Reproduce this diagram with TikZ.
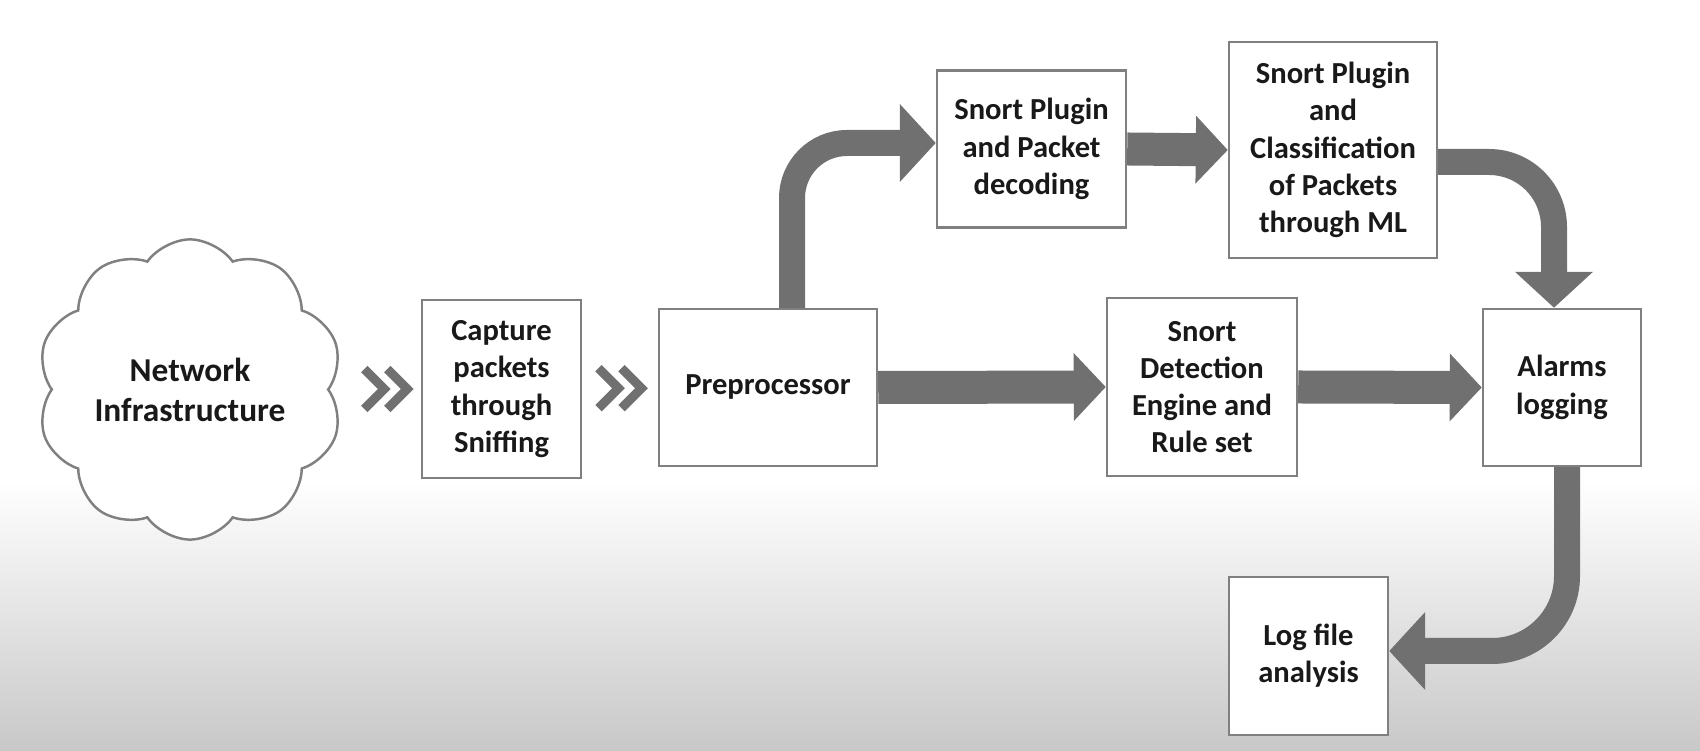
\documentclass[tikz,border=0pt]{standalone}
\usepackage{fontspec}
\setmainfont{Carlito}
\usetikzlibrary{shapes.symbols,arrows.meta,calc}
\definecolor{boxgray}{RGB}{128,128,128}
\definecolor{arrowgray}{RGB}{112,112,112}
\definecolor{bggray}{RGB}{200,200,200}
\definecolor{txtblack}{RGB}{25,25,25}
\tikzset{
  box/.style={draw=boxgray, fill=white, line width=0.7pt, align=center, inner sep=0pt, text=txtblack, font=\fontsize{8.7}{10.6}\selectfont\bfseries},
  flow/.style={draw=arrowgray, line width=0.33cm, -{Triangle[length=0.32cm,width=0.66cm]}},
  curvearrow/.style={draw=arrowgray, line width=0.26cm, -{Triangle[length=0.36cm,width=0.76cm]}},
  chev/.pic={\foreach \dx in {-0.115,0.115} \draw[arrowgray, line width=0.09cm] (\dx-0.1,0.2) -- (\dx+0.1,0) -- (\dx-0.1,-0.2);}
}
\begin{document}
\begin{tikzpicture}
\useasboundingbox (0,0) rectangle (17,7.51);
\fill[white] (0,0) rectangle (17,7.51);
\shade[top color=white, bottom color=bggray] (0,0) rectangle (17,2.7);

\node[box, cloud, cloud puffs=10, cloud puff arc=110, aspect=1, minimum width=3.06cm, minimum height=2.97cm, font=\fontsize{9.5}{11.4}\selectfont\bfseries] (net) at (1.90,3.615) {Network\\Infrastructure};
\node[box, minimum width=1.59cm, minimum height=1.78cm] (cap) at (5.015,3.62) {Capture\\packets\\through\\Sniffing};
\node[box, minimum width=2.18cm, minimum height=1.57cm] (pre) at (7.68,3.635) {Preprocessor};
\node[box, minimum width=1.89cm, minimum height=1.57cm] (dec) at (10.315,6.02) {Snort Plugin\\and Packet\\decoding};
\node[box, minimum width=2.08cm, minimum height=2.16cm] (cls) at (13.33,6.01) {Snort Plugin\\and\\Classification\\of Packets\\through ML};
\node[box, minimum width=1.90cm, minimum height=1.78cm] (det) at (12.02,3.64) {Snort\\Detection\\Engine and\\Rule set};
\node[box, minimum width=1.58cm, minimum height=1.57cm] (alm) at (15.62,3.635) {Alarms\\logging};
\node[box, minimum width=1.59cm, minimum height=1.58cm] (logf) at (13.085,0.95) {Log file\\analysis};

\pic at ($(cap.west)+(-0.35,0)$) {chev};
\pic at ($(cap.east)!0.5!(pre.west)$) {chev};

\draw[flow] (pre.east) -- (det.west);
\draw[flow] (det.east) -- (alm.west);
\draw[flow] (dec.east) -- (cls.west);
\draw[curvearrow, rounded corners=0.55cm] ([xshift=0.24cm]pre.north) |- ([yshift=0.06cm]dec.west);
\draw[curvearrow, rounded corners=0.65cm] ([yshift=-0.12cm]cls.east) -| ([xshift=-0.08cm]alm.north);
\draw[curvearrow, rounded corners=0.75cm] ([xshift=0.05cm]alm.south) |- ([yshift=0.05cm]logf.east);
\end{tikzpicture}
\end{document}
